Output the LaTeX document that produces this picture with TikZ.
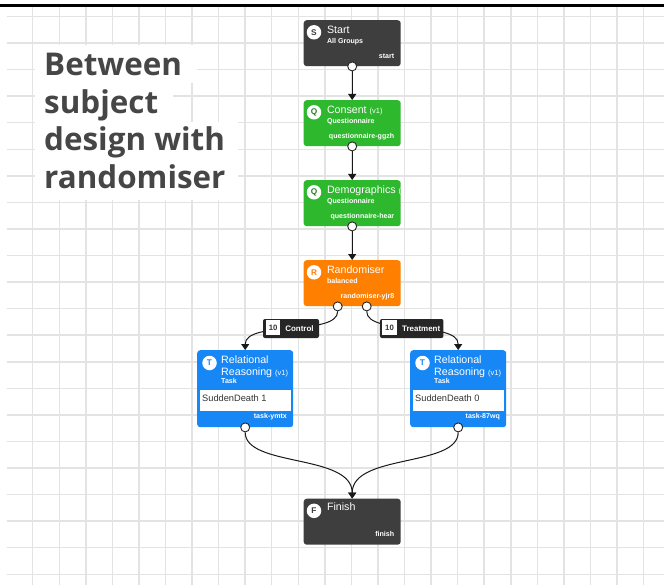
\documentclass[tikz,border=0pt]{standalone}
\usepackage{fontspec}
\setmainfont{Liberation Sans}
\newfontfamily\headfont{Open Sans}
\usetikzlibrary{arrows.meta}

\definecolor{darkbox}{HTML}{3E3E3E}
\definecolor{greenbox}{HTML}{2DB82D}
\definecolor{orangebox}{HTML}{FF8000}
\definecolor{bluebox}{HTML}{1787F5}
\definecolor{gridgray}{HTML}{E3E3E3}
\definecolor{headgray}{HTML}{464646}
\definecolor{tagbox}{HTML}{262626}
\definecolor{inktext}{HTML}{333333}

% smaller type for version suffixes
\newcommand\vertagsize{\fontsize{7.5}{7.5}\selectfont}

\pgfdeclarelayer{grid}
\pgfdeclarelayer{links}
\pgfsetlayers{grid,links,main}

\tikzset{
  gridline/.style={gridgray, line width=1.5bp},
  flowbox/.style={rounded corners=3bp, anchor=north west, inner sep=0, minimum width=97bp, minimum height=46bp},
  taskbox/.style={flowbox, fill=bluebox, minimum width=96bp, minimum height=77bp},
  port/.style={circle, draw=black!85, fill=white, line width=0.9bp, minimum size=9bp, inner sep=0},
  icon/.style={circle, fill=white, minimum size=14.5bp, inner sep=0, font=\bfseries\fontsize{8.3}{8.3}\selectfont},
  ttl/.style={anchor=base west, text=white, inner sep=0, font=\fontsize{10.7}{10.7}\selectfont},
  sub/.style={anchor=base west, text=white, inner sep=0, font=\bfseries\fontsize{7.1}{7.1}\selectfont},
  ident/.style={anchor=base east, text=white, inner sep=0, font=\bfseries\fontsize{7.1}{7.1}\selectfont},
  field/.style={anchor=north west, fill=white, inner sep=0, minimum width=91.7bp, minimum height=21bp},
  fieldtext/.style={anchor=base west, text=inktext, inner sep=0, font=\fontsize{9.3}{9.3}\selectfont},
  link/.style={line width=1bp, black!90, -{Triangle[length=6bp,width=8bp]}},
  tag/.style={fill=tagbox, rounded corners=2bp, minimum height=19bp, inner sep=0},
  count/.style={fill=white, minimum width=14.5bp, minimum height=15bp, inner sep=0, text=inktext, font=\bfseries\fontsize{7.8}{7.8}\selectfont},
  tagtext/.style={anchor=base, text=white, inner sep=0, font=\bfseries\fontsize{8}{8}\selectfont},
  headline/.style={anchor=base west, inner sep=0, text=headgray, font=\headfont\bfseries\fontsize{31.5}{31.5}\selectfont},
  headback/.style={fill=white, draw=none}
}

\begin{document}
\begin{tikzpicture}[x=1bp, y=-1bp]
\useasboundingbox (0,0) rectangle (664,585);

% canvas, grid and top rule
\begin{pgfonlayer}{grid}
  \fill[white] (0,0) rectangle (664,585);
  \foreach \k in {0,...,21}
    \draw[gridline] (6.7,{16.5+26.56*\k}) -- (664,{16.5+26.56*\k});
  \foreach \k in {0,...,23}
    \draw[gridline] ({32.7+26.56*\k},7.5) -- ({32.7+26.56*\k},585);
  \fill[black] (0,4) rectangle (664,7.5);
\end{pgfonlayer}

% heading, each line on its own white band
\fill[headback] (35,45) rectangle (197,83.5);
\fill[headback] (35,83.5) rectangle (173,122);
\fill[headback] (35,122) rectangle (238,160.5);
\fill[headback] (35,160.5) rectangle (238,200);
\node[headline] (h1) at (44,76) {Between};
\node[headline] (h2) at (44,113.5) {subject};
\node[headline] (h3) at (44,151) {design with};
\node[headline] (h4) at (44,188.5) {randomiser};

% Start
\node[flowbox, fill=darkbox] (start) at (303.5,20) {};
\node[icon, text=darkbox] (starticon) at ([shift={(10.5,12.3)}]start.north west) {S};
\node[ttl] (startttl) at ([shift={(23.3,13.8)}]start.north west) {Start};
\node[sub] (startsub) at ([shift={(23.3,23.2)}]start.north west) {All Groups};
\node[ident] (startid) at ([shift={(-6.5,38.2)}]start.north east) {start};
\node[port] (startport) at (start.south) {};

% Consent
\node[flowbox, fill=greenbox] (consent) at (303.5,100) {};
\node[icon, text=greenbox!70!black] (consenticon) at ([shift={(10.5,12.3)}]consent.north west) {Q};
\node[ttl] (consentttl) at ([shift={(23.3,13.8)}]consent.north west) {Consent {\vertagsize (v1)}};
\node[sub] (consentsub) at ([shift={(23.3,23.2)}]consent.north west) {Questionnaire};
\node[ident] (consentid) at ([shift={(-6.5,38.2)}]consent.north east) {questionnaire-ggzh};
\node[port] (consentport) at (consent.south) {};

% Demographics
\node[flowbox, fill=greenbox] (demo) at (303.5,180) {};
\node[icon, text=greenbox!70!black] (demoicon) at ([shift={(10.5,12.3)}]demo.north west) {Q};
\begin{scope}
  \clip (demo.north west) rectangle (demo.south east);
  \node[ttl] (demottl) at ([shift={(23.3,13.8)}]demo.north west) {Demographics {\vertagsize (v1)}};
\end{scope}
\node[sub] (demosub) at ([shift={(23.3,23.2)}]demo.north west) {Questionnaire};
\node[ident] (demoid) at ([shift={(-6.5,38.2)}]demo.north east) {questionnaire-hear};
\node[port] (demoport) at (demo.south) {};

% Randomiser
\node[flowbox, fill=orangebox] (rand) at (303.5,260) {};
\node[icon, text=orangebox] (randicon) at ([shift={(10.5,12.3)}]rand.north west) {R};
\node[ttl] (randttl) at ([shift={(23.3,13.8)}]rand.north west) {Randomiser};
\node[sub] (randsub) at ([shift={(23.3,23.2)}]rand.north west) {balanced};
\node[ident] (randid) at ([shift={(-6.5,38.2)}]rand.north east) {randomiser-yjr8};
\node[port] (randportA) at ([xshift=-14.5bp]rand.south) {};
\node[port] (randportB) at ([xshift=14.5bp]rand.south) {};

% Relational Reasoning, control arm
\node[taskbox] (taskA) at (197,350) {};
\node[icon, text=bluebox] (taskAicon) at ([shift={(12.5,13)}]taskA.north west) {T};
\node[ttl] (taskAttl) at ([shift={(24,13.8)}]taskA.north west) {Relational};
\node[ttl] (taskAttlb) at ([shift={(24,25.5)}]taskA.north west) {Reasoning {\vertagsize (v1)}};
\node[sub] (taskAsub) at ([shift={(24,33.8)}]taskA.north west) {Task};
\node[field] (taskAfield) at ([shift={(2.5,39.5)}]taskA.north west) {};
\node[fieldtext] (taskAval) at ([shift={(5,51.5)}]taskA.north west) {SuddenDeath 1};
\node[ident] (taskAid) at ([shift={(-6.3,68.5)}]taskA.north east) {task-ymtx};
\node[port] (taskAport) at (taskA.south) {};

% Relational Reasoning, treatment arm
\node[taskbox] (taskB) at (410,350) {};
\node[icon, text=bluebox] (taskBicon) at ([shift={(12.5,13)}]taskB.north west) {T};
\node[ttl] (taskBttl) at ([shift={(24,13.8)}]taskB.north west) {Relational};
\node[ttl] (taskBttlb) at ([shift={(24,25.5)}]taskB.north west) {Reasoning {\vertagsize (v1)}};
\node[sub] (taskBsub) at ([shift={(24,33.8)}]taskB.north west) {Task};
\node[field] (taskBfield) at ([shift={(2.5,39.5)}]taskB.north west) {};
\node[fieldtext] (taskBval) at ([shift={(5,51.5)}]taskB.north west) {SuddenDeath 0};
\node[ident] (taskBid) at ([shift={(-6.3,68.5)}]taskB.north east) {task-87wq};
\node[port] (taskBport) at (taskB.south) {};

% Finish
\node[flowbox, fill=darkbox] (finish) at (303.5,498.5) {};
\node[icon, text=darkbox] (finishicon) at ([shift={(10.5,12.3)}]finish.north west) {F};
\node[ttl] (finishttl) at ([shift={(23.3,12.2)}]finish.north west) {Finish};
\node[ident] (finishid) at ([shift={(-6.5,37.7)}]finish.north east) {finish};

% branch tags
\node[tag, minimum width=56bp] (ctltag) at (291,328.5) {};
\node[count] (ctlcount) at ([xshift=10.3bp, yshift=0.7bp]ctltag.west) {10};
\node[tagtext] (ctltext) at (299.5,331.8) {Control};
\node[tag, minimum width=63.5bp] (trttag) at (411.7,328.5) {};
\node[count] (trtcount) at ([xshift=9.8bp, yshift=0.7bp]trttag.west) {10};
\node[tagtext] (trttext) at (421.2,331.8) {Treatment};

% connectors
\begin{pgfonlayer}{links}
  \draw[link] (startport) -- (consent.north);
  \draw[link] (consentport) -- (demo.north);
  \draw[link] (demoport) -- (rand.north);
  \draw[link] (randportA) .. controls +(0,30) and +(0,-30) .. (taskA.north);
  \draw[link] (randportB) .. controls +(0,30) and +(0,-30) .. (taskB.north);
  \draw[link] (taskAport) .. controls +(0,40) and +(0,-45) .. (finish.north);
  \draw[link] (taskBport) .. controls +(0,40) and +(0,-45) .. (finish.north);
\end{pgfonlayer}
\end{tikzpicture}
\end{document}
